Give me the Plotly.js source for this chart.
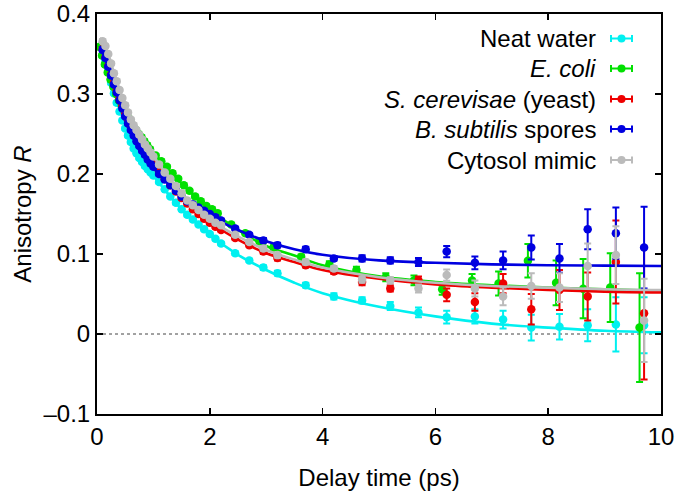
<!DOCTYPE html>
<html>
<head>
<meta charset="utf-8">
<script src="https://cdn.plot.ly/plotly-3.0.1.min.js"></script>
<style>html,body{margin:0;padding:0;background:#fff;}#chart{width:675px;height:491px;}</style>
</head>
<body>
<div id="chart"></div>
<script>
// ---- data ----
const seriesNames = ["Neat water", "<i>E. coli</i>", "<i>S. cerevisae</i> (yeast)", "<i>B. subtilis</i> spores", "Cytosol mimic"];
const seriesColors = ["#00f0f0", "#00e000", "#ee0000", "#0000e0", "#bbbbbb"];

const tCommon = [0.1,0.15,0.2,0.25,0.3,0.35,0.4,0.45,0.5,0.55,0.6,0.65,0.7,0.75,0.8,0.85,0.9,0.95,1.0,
  1.1,1.2,1.3,1.4,1.5,1.6,1.7,1.8,1.9,2.0,2.1,2.2,2.45,2.7,2.95,3.2,
  3.7,4.2,4.7,5.2,5.7,6.2,6.7,7.2,7.7,8.2,8.7,9.2,9.7];
const tEcoli = [0.04,0.09,0.14,0.19,0.24,0.29,0.34,0.39,0.44,0.49,0.54,0.59,0.64,0.69,0.74,0.79,0.84,0.89,0.94,
  1.04,1.14,1.24,1.34,1.44,1.54,1.64,1.74,1.84,1.94,2.04,2.14,2.38,2.63,2.88,3.13,
  3.62,4.12,4.6,5.12,5.62,6.12,6.65,7.12,7.64,8.14,8.62,9.1,9.62];

const rWater = [0.357,0.342,0.328,0.314,0.301,0.289,0.278,0.267,0.257,0.248,0.240,0.232,0.226,0.220,0.215,0.210,0.206,0.202,0.198,
  0.190,0.181,0.172,0.164,0.156,0.149,0.143,0.137,0.131,0.125,0.119,0.113,0.101,0.092,0.083,0.076,
  0.061,0.047,0.042,0.035,0.027,0.021,0.022,0.018,0.008,0.009,0.011,0.012,0.011];
const eWater = [0.002,0.002,0.002,0.002,0.002,0.002,0.002,0.002,0.002,0.002,0.002,0.002,0.002,0.002,0.002,0.002,0.002,0.002,0.002,
  0.002,0.002,0.002,0.002,0.002,0.002,0.002,0.002,0.002,0.002,0.002,0.002,0.002,0.002,0.003,0.003,
  0.003,0.004,0.004,0.005,0.006,0.008,0.009,0.011,0.016,0.016,0.020,0.034,0.035];

const rEcoli = [0.359,0.348,0.337,0.327,0.318,0.309,0.300,0.292,0.285,0.278,0.272,0.266,0.260,0.255,0.250,0.246,0.241,0.236,0.231,
  0.223,0.216,0.209,0.201,0.194,0.186,0.179,0.172,0.166,0.160,0.156,0.151,0.137,0.126,0.116,0.108,
  0.0965,0.087,0.080,0.071,0.067,0.056,0.067,0.063,0.0915,0.064,0.0566,0.058,0.008];
const eEcoli = [0.002,0.002,0.002,0.002,0.002,0.002,0.002,0.002,0.002,0.002,0.002,0.002,0.002,0.002,0.002,0.002,0.002,0.002,0.002,
  0.002,0.002,0.002,0.002,0.002,0.002,0.002,0.002,0.002,0.002,0.002,0.002,0.002,0.002,0.003,0.003,
  0.003,0.004,0.004,0.005,0.006,0.007,0.008,0.015,0.021,0.028,0.037,0.043,0.068];

const rYeast = [0.356,0.346,0.335,0.324,0.314,0.304,0.294,0.285,0.276,0.267,0.259,0.252,0.245,0.239,0.233,0.227,0.222,0.217,0.212,
  0.203,0.194,0.186,0.178,0.170,0.163,0.156,0.150,0.144,0.139,0.134,0.130,0.120,0.111,0.103,0.095,
  0.086,0.078,0.065,0.057,0.067,0.049,0.040,0.063,0.031,0.055,0.047,0.090,0.026];
const eYeast = [0.002,0.002,0.002,0.002,0.002,0.002,0.002,0.002,0.002,0.002,0.002,0.002,0.002,0.002,0.002,0.002,0.002,0.002,0.002,
  0.002,0.002,0.002,0.002,0.002,0.002,0.002,0.002,0.002,0.002,0.002,0.002,0.002,0.002,0.003,0.003,
  0.003,0.003,0.004,0.004,0.005,0.008,0.011,0.012,0.019,0.025,0.030,0.052,0.083];

const rSpores = [0.355,0.345,0.334,0.323,0.312,0.302,0.292,0.282,0.272,0.263,0.255,0.248,0.241,0.235,0.229,0.224,0.218,0.213,0.209,
  0.200,0.193,0.186,0.179,0.172,0.166,0.162,0.158,0.154,0.150,0.146,0.142,0.132,0.124,0.117,0.111,
  0.106,0.0945,0.0945,0.092,0.090,0.103,0.089,0.092,0.108,0.0945,0.131,0.126,0.108];
const eSpores = [0.002,0.002,0.002,0.002,0.002,0.002,0.002,0.002,0.002,0.002,0.002,0.002,0.002,0.002,0.002,0.002,0.002,0.002,0.002,
  0.002,0.002,0.002,0.002,0.002,0.002,0.002,0.002,0.002,0.002,0.002,0.002,0.002,0.002,0.003,0.003,
  0.003,0.003,0.004,0.004,0.005,0.007,0.008,0.011,0.015,0.018,0.025,0.032,0.051];

const rCytosol = [0.366,0.360,0.350,0.338,0.326,0.316,0.305,0.295,0.286,0.277,0.268,0.261,0.255,0.249,0.243,0.237,0.232,0.227,0.222,
  0.212,0.202,0.194,0.185,0.176,0.167,0.161,0.155,0.149,0.144,0.139,0.136,0.124,0.115,0.107,0.0986,
  0.090,0.082,0.068,0.067,0.057,0.0737,0.057,0.047,0.060,0.058,0.085,0.0986,0.017];
const eCytosol = [0.002,0.002,0.002,0.002,0.002,0.002,0.002,0.002,0.002,0.002,0.002,0.002,0.002,0.002,0.002,0.002,0.002,0.002,0.002,
  0.002,0.002,0.002,0.002,0.002,0.002,0.002,0.002,0.002,0.002,0.002,0.002,0.002,0.002,0.003,0.003,
  0.003,0.003,0.004,0.004,0.005,0.007,0.010,0.011,0.016,0.018,0.028,0.036,0.052];

// fitted curves
const tFit = [0.05,0.1,0.2,0.3,0.5,0.75,1,1.25,1.5,2,2.5,3,3.5,4,5,6,7,8,9,10];
const fitWater   = [0.362,0.357,0.330,0.304,0.262,0.224,0.198,0.176,0.156,0.124,0.099,0.080,0.064,0.051,0.034,0.022,0.013,0.008,0.004,0.002];
const fitEcoli   = [0.360,0.350,0.330,0.311,0.279,0.249,0.227,0.207,0.188,0.156,0.130,0.110,0.098,0.086,0.072,0.065,0.061,0.058,0.056,0.054];
const fitYeast   = [0.360,0.352,0.333,0.314,0.278,0.240,0.213,0.191,0.171,0.140,0.118,0.101,0.090,0.080,0.069,0.062,0.058,0.055,0.053,0.052];
const fitSpores  = [0.360,0.352,0.333,0.313,0.275,0.236,0.208,0.189,0.172,0.148,0.130,0.116,0.106,0.099,0.092,0.089,0.087,0.086,0.0855,0.085];
const fitCytosol = [0.370,0.366,0.350,0.327,0.287,0.249,0.222,0.198,0.176,0.143,0.122,0.105,0.093,0.083,0.071,0.064,0.060,0.058,0.056,0.055];

const xTicks = [0,2,4,6,8,10];
const yTicks = [-0.1,0,0.1,0.2,0.3,0.4];
const yTickText = ["\u20130.1","0","0.1","0.2","0.3","0.4"];

const times = [tCommon, tEcoli, tCommon, tCommon, tCommon];
const values = [rWater, rEcoli, rYeast, rSpores, rCytosol];
const errors = [eWater, eEcoli, eYeast, eSpores, eCytosol];
const fits = [fitWater, fitEcoli, fitYeast, fitSpores, fitCytosol];

// ---- build ----
const FONT = "Liberation Sans, Arial, Helvetica, sans-serif";
const FS = 24;
const traces = [];
for (let i = 0; i < seriesNames.length; i++) {
  traces.push({
    x: times[i], y: values[i], type: "scatter", mode: "markers", showlegend: false,
    marker: {color: seriesColors[i], size: 8.5},
    error_y: {type: "data", array: errors[i], visible: true, color: seriesColors[i], thickness: 2, width: 3.5},
    hoverinfo: "skip"
  });
  traces.push({
    x: tFit, y: fits[i], type: "scatter", mode: "lines", showlegend: false,
    line: {color: seriesColors[i], width: 2.6, shape: "spline", smoothing: 1.0},
    hoverinfo: "skip"
  });
}

// legend drawn as annotations + shapes (text left of symbol)
const rowY = [38.5, 68.5, 99, 129, 160]; // pixel rows
const plotL = 97, plotR = 661, plotT = 14, plotB = 414;
const px2x = p => (p - plotL) / (plotR - plotL);
const px2y = p => (plotB - p) / (plotB - plotT);
const annotations = [];
const shapes = [{
  type: "line", xref: "paper", yref: "y", x0: 0, x1: 1, y0: 0, y1: 0,
  line: {color: "#444", width: 1, dash: "dot"}, layer: "below"
}];
for (let i = 0; i < seriesNames.length; i++) {
  const yy = px2y(rowY[i]);
  annotations.push({
    xref: "paper", yref: "paper", x: px2x(598), y: yy, xanchor: "right", yanchor: "middle",
    text: seriesNames[i], showarrow: false, font: {family: FONT, size: FS, color: "#000"}
  });
  const c = seriesColors[i];
  const dy = 3.5 / (plotB - plotT);
  shapes.push({type: "line", xref: "paper", yref: "paper", x0: px2x(611), x1: px2x(632), y0: yy, y1: yy, line: {color: c, width: 2}});
  shapes.push({type: "line", xref: "paper", yref: "paper", x0: px2x(611), x1: px2x(611), y0: yy - dy, y1: yy + dy, line: {color: c, width: 2}});
  shapes.push({type: "line", xref: "paper", yref: "paper", x0: px2x(632), x1: px2x(632), y0: yy - dy, y1: yy + dy, line: {color: c, width: 2}});
  shapes.push({type: "circle", xref: "paper", yref: "paper", x0: px2x(617.5), x1: px2x(625.5), y0: px2y(rowY[i] + 4), y1: px2y(rowY[i] - 4),
    fillcolor: c, line: {color: c, width: 0}});
}

const axisCommon = {
  showgrid: false, zeroline: false, showline: true, linecolor: "#000", linewidth: 2,
  mirror: "ticks", ticks: "inside", ticklen: 6, tickwidth: 1.5, tickcolor: "#000",
  tickfont: {family: FONT, size: FS, color: "#000"}
};

const layout = {
  width: 675, height: 491,
  margin: {l: plotL, r: 675 - plotR, t: plotT, b: 491 - plotB, pad: 0},
  paper_bgcolor: "#fff", plot_bgcolor: "#fff",
  showlegend: false,
  xaxis: Object.assign({}, axisCommon, {
    range: [0, 10], tickvals: xTicks, ticktext: xTicks.map(String),
    title: {text: "Delay time (ps)", font: {family: FONT, size: FS, color: "#000"}, standoff: 24},
    automargin: false
  }),
  yaxis: Object.assign({}, axisCommon, {
    range: [-0.1, 0.4], tickvals: yTicks, ticktext: yTickText,
    title: {text: "Anisotropy <i>R</i>", font: {family: FONT, size: FS, color: "#000"}, standoff: 5},
    automargin: false
  }),
  annotations: annotations,
  shapes: shapes
};

Plotly.newPlot("chart", traces, layout, {staticPlot: true, displayModeBar: false});
</script>
</body>
</html>
